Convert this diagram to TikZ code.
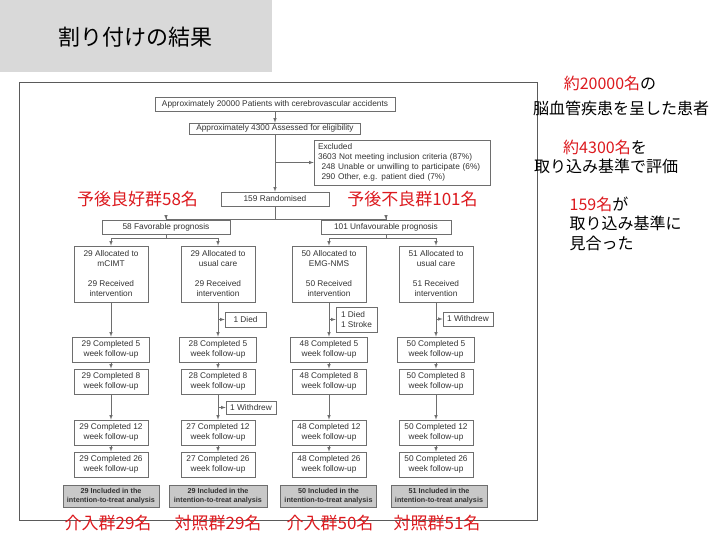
\documentclass[tikz,border=0pt]{standalone}
\usepackage{fontspec}
\setmainfont{Liberation Sans}
\newfontfamily\jp{Noto Sans CJK JP}
\definecolor{linegray}{RGB}{110,110,110}
\definecolor{framegray}{RGB}{90,90,90}
\definecolor{textgray}{RGB}{50,50,50}
\definecolor{ittgray}{RGB}{200,200,200}
\definecolor{titlegray}{RGB}{217,217,217}
\definecolor{jpred}{RGB}{220,25,30}
\tikzset{> = latex, every picture/.style={line width=0.6pt}}
\tikzset{
  box/.style={draw=linegray, text=textgray, inner sep=0pt, align=center,
    font=\fontsize{8.3}{10}\selectfont},
  ittbox/.style={box, fill=ittgray, minimum width=96pt, minimum height=22pt,
    font=\bfseries\fontsize{7.2}{9}\selectfont},
  redlabel/.style={text=jpred, font=\jp\fontsize{17}{20}\selectfont},
  note/.style={font=\jp\fontsize{16}{19}\selectfont}
}

\begin{document}
\begin{tikzpicture}[x=1pt,y=-1pt]
\useasboundingbox (0,0) rectangle (720,540);

% title bar
\fill[titlegray] (0,0) rectangle (272,72);
\node[font=\jp\fontsize{22}{26}\selectfont] (title) at (135,37) {割り付けの結果};

% frame round the flow chart
\draw[framegray, line width=0.9pt] (19,82) rectangle (537,520);

% screening
\node[box, minimum width=240pt, minimum height=14pt] (top) at (275,104)
  {Approximately 20000 Patients with cerebrovascular accidents};
\node[box, minimum width=171pt, minimum height=11pt] (elig) at (275,128.5)
  {Approximately 4300 Assessed for eligibility};
\node[box, minimum width=176pt, minimum height=45pt, text width=168pt,
  align=left] (excl) at (402,162.5)
  {Excluded\\3603 Not meeting inclusion criteria (87\%)\\
   \hspace{3.5pt}248 Unable or unwilling to participate (6\%)\\
   \hspace{3.5pt}290 Other, e.g. patient died (7\%)};
\node[box, minimum width=108pt, minimum height=14pt] (rand) at (275,199) {159 Randomised};
\node[box, minimum width=128pt, minimum height=14pt] (fav) at (166,227) {58 Favorable prognosis};
\node[box, minimum width=130pt, minimum height=14pt] (unfav) at (386,227) {101 Unfavourable prognosis};

% allocation
\begin{scope}[every node/.style={box, minimum width=74pt, minimum height=56pt}]
\node (A1) at (111,274) {29 Allocated to\\mCIMT\\[10pt]29 Received\\intervention};
\node (A2) at (218,274) {29 Allocated to\\usual care\\[10pt]29 Received\\intervention};
\node (A3) at (329,274) {50 Allocated to\\EMG-NMS\\[10pt]50 Received\\intervention};
\node (A4) at (436,274) {51 Allocated to\\usual care\\[10pt]51 Received\\intervention};
\end{scope}

% follow-up
\begin{scope}[every node/.style={box, minimum width=77pt, minimum height=25pt}]
\node (B1) at (111,349.5) {29 Completed 5\\week follow-up};
\node (B2) at (218,349.5) {28 Completed 5\\week follow-up};
\node (B3) at (329,349.5) {48 Completed 5\\week follow-up};
\node (B4) at (436,349.5) {50 Completed 5\\week follow-up};
\end{scope}
\begin{scope}[every node/.style={box, minimum width=74pt, minimum height=25pt}]
\node (C1) at (111,381.5) {29 Completed 8\\week follow-up};
\node (C2) at (218,381.5) {28 Completed 8\\week follow-up};
\node (C3) at (329,381.5) {48 Completed 8\\week follow-up};
\node (C4) at (436,381.5) {50 Completed 8\\week follow-up};
\node (D1) at (111,432.5) {29 Completed 12\\week follow-up};
\node (D2) at (218,432.5) {27 Completed 12\\week follow-up};
\node (D3) at (329,432.5) {48 Completed 12\\week follow-up};
\node (D4) at (436,432.5) {50 Completed 12\\week follow-up};
\node (E1) at (111,464.5) {29 Completed 26\\week follow-up};
\node (E2) at (218,464.5) {27 Completed 26\\week follow-up};
\node (E3) at (329,464.5) {48 Completed 26\\week follow-up};
\node (E4) at (436,464.5) {50 Completed 26\\week follow-up};
\end{scope}

% losses
\node[box, minimum width=41pt, minimum height=15pt] (S2) at (245.5,319.5) {1 Died};
\node[box, minimum width=41pt, minimum height=25pt, align=left] (S3) at (356.5,319.5) {1 Died\\1 Stroke};
\node[box, minimum width=50pt, minimum height=14pt] (S4) at (468,319) {1 Withdrew};
\node[box, minimum width=50pt, minimum height=13pt] (W2) at (251,407.5) {1 Withdrew};

% analysis
\node[ittbox] (T1) at (111,496) {29 Included in the\\intention-to-treat analysis};
\node[ittbox, minimum width=98pt] (T2) at (218,496) {29 Included in the\\intention-to-treat analysis};
\node[ittbox] (T3) at (328.5,496) {50 Included in the\\intention-to-treat analysis};
\node[ittbox] (T4) at (439,496) {51 Included in the\\intention-to-treat analysis};

% connectors
\begin{scope}[draw=linegray]
\draw[->] (top) -- (elig);
\draw[->] (elig) -- (rand);
\draw[->] (excl.west -| elig) -- (excl);
\draw[->] (rand.south) -- ++(0,13) -| (fav.north);
\draw[->] (rand.south) -- ++(0,13) -| (unfav.north);
\draw[->] (fav.south) -- ++(0,4) -| (A1.north);
\draw[->] (fav.south) -- ++(0,4) -| (A2.north);
\draw[->] (unfav.south) -- ++(0,4) -| (A3.north);
\draw[->] (unfav.south) -- ++(0,4) -| (A4.north);
\foreach \k in {1,...,4} {
  \draw[->] (A\k) -- (B\k);
  \draw[->] (B\k) -- (C\k);
  \draw[->] (C\k) -- (D\k);
  \draw[->] (D\k) -- (E\k);
}
\draw[->] (S2.west -| A2) -- (S2.west);
\draw[->] (S3.west -| A3) -- (S3.west);
\draw[->] (S4.west -| A4) -- (S4.west);
\draw[->] (W2.west -| C2) -- (W2.west);
\end{scope}

% group labels
\node[redlabel] (G1) at (137.5,199) {予後良好群58名};
\node[redlabel] (G2) at (412.5,199) {予後不良群101名};
\node[redlabel] (L1) at (108,523) {介入群29名};
\node[redlabel] (L2) at (218,523) {対照群29名};
\node[redlabel] (L3) at (330,523) {介入群50名};
\node[redlabel] (L4) at (437,523) {対照群51名};

% notes on the right
\node[note] (N1) at (610,83) {{\color{jpred}約20000名}の};
\node[note] (N2) at (621,108) {脳血管疾患を呈した患者};
\node[note] (N3) at (605,147) {{\color{jpred}約4300名}を};
\node[note] (N4) at (606,166) {取り込み基準で評価};
\node[note, anchor=west] (N5) at (566,204) {{\color{jpred}159名}が};
\node[note, anchor=west] (N6) at (566,223) {取り込み基準に};
\node[note, anchor=west] (N7) at (566,243) {見合った};
\end{tikzpicture}
\end{document}
